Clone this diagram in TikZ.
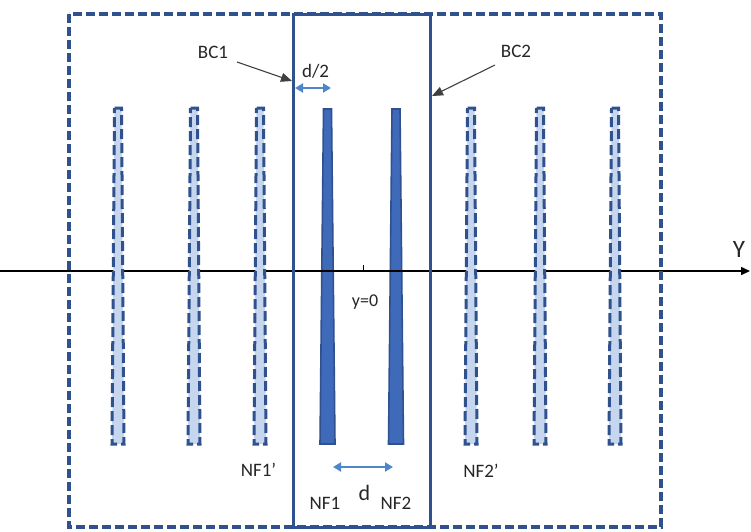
\documentclass[tikz,border=0pt]{standalone}
\usepackage{fontspec}
\setmainfont{Carlito}
\usetikzlibrary{arrows.meta}
\definecolor{dkblue}{RGB}{47,82,143}
\definecolor{nffill}{RGB}{62,106,185}
\definecolor{rodfill}{RGB}{197,214,238}
\definecolor{arrblue}{RGB}{78,135,201}
\tikzset{
  lbl/.style={font=\fontsize{19}{19}\selectfont, text=black!85, inner sep=0pt, anchor=base},
  outerbox/.style={draw=dkblue, line width=3.4pt, dash pattern=on 9pt off 4pt},
  bcbox/.style={draw=dkblue, line width=3pt},
  rod/.style={draw=dkblue, fill=rodfill, line width=3pt, dash pattern=on 10pt off 4pt},
  nfbar/.style={draw=dkblue, fill=nffill, line width=1.6pt},
  bcarrow/.style={draw=black!75, line width=1.1pt, -{Triangle[length=11pt,width=9pt]}},
  darrow/.style={draw=arrblue, line width=2.4pt, {Triangle[length=8pt,width=9pt]}-{Triangle[length=8pt,width=9pt]}},
  axis/.style={draw=black, line width=1.5pt, -{Triangle[length=9pt,width=8pt]}}
}
\newcommand{\rodshape}[2]{% center x, name
  \draw[rod] (#1-3.5,108) -- (#1+3.5,108) -- (#1+6,444) -- (#1-6,444) -- cycle;
  \coordinate (#2) at (#1,444);
}
\begin{document}
\begin{tikzpicture}[x=1pt,y=-1pt]
\useasboundingbox (0,0) rectangle (751,531);
% NF bars
\draw[nfbar] (323.5,109) -- (331.5,109) -- (335,444) -- (320,444) -- cycle;
\draw[nfbar] (392,109) -- (400,109) -- (403.5,444) -- (388.5,444) -- cycle;
% axis
\coordinate (axL) at (0,271);
\coordinate (axR) at (750,271);
\draw[axis] (axL) -- (axR);
\coordinate (tickA) at (363,265);
\coordinate (tickB) at (363,271);
\draw[black, line width=0.8pt] (tickA) -- (tickB);
% rods
\rodshape{118}{r1}
\rodshape{194}{r2}
\rodshape{260}{r3}
\rodshape{471}{r4}
\rodshape{540}{r5}
\rodshape{615}{r6}
% boxes
\draw[outerbox] (69,14) rectangle (661,527);
\draw[bcbox] (293,14) rectangle (430,527);
% labels
\node[lbl] (bc1) at (213,58) {BC1};
\node[lbl] (bc2) at (516,57) {BC2};
\node[lbl] (dh) at (315.5,77) {d/2};
\node[lbl] (nf1p) at (258.5,476) {NF1’};
\node[lbl] (nf2p) at (481,477) {NF2’};
\node[lbl] (nf1) at (325,509) {NF1};
\node[lbl] (nf2) at (396,509) {NF2};
\node[lbl, font=\fontsize{22}{22}\selectfont] (d) at (364.5,500) {d};
\node[lbl, font=\fontsize{18}{18}\selectfont] (y0) at (365,306) {y=0};
\node[lbl, font=\fontsize{25}{25}\selectfont] (Y) at (739,257) {Y};
% BC arrows
\coordinate (bc1s) at (237,62);
\coordinate (bc1e) at (292,81);
\coordinate (bc2s) at (495,65);
\coordinate (bc2e) at (432,96);
\draw[bcarrow] (bc1s) -- (bc1e);
\draw[bcarrow] (bc2s) -- (bc2e);
% dimension arrows
\coordinate (dhA) at (295,88);
\coordinate (dhB) at (331,88);
\draw[darrow] (dhA) -- (dhB);
\coordinate (dA) at (333,467);
\coordinate (dB) at (393,467);
\draw[darrow] (dA) -- (dB);
\end{tikzpicture}
\end{document}
